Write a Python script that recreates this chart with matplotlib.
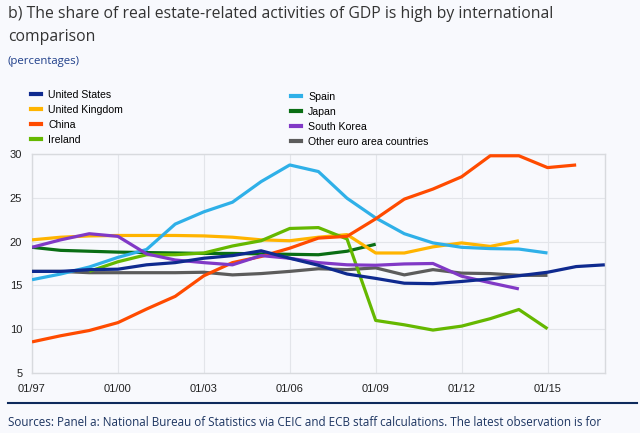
import numpy as np
import matplotlib.pyplot as plt
from matplotlib.lines import Line2D

us_years = np.arange(1997, 2018)
us_vals = [16.6, 16.6, 16.8, 16.85, 17.35, 17.6, 18.1, 18.4, 18.95, 18.1, 17.3,
           16.3, 15.8, 15.25, 15.2, 15.45, 15.75, 16.1, 16.5, 17.15, 17.35]

uk_years = np.arange(1997, 2015)
uk_vals = [20.2, 20.5, 20.65, 20.7, 20.7, 20.7, 20.65, 20.5, 20.2, 20.1, 20.5,
           20.8, 18.7, 18.7, 19.4, 19.85, 19.45, 20.1]

cn_years = np.arange(1997, 2017)
cn_vals = [8.55, 9.25, 9.85, 10.75, 12.3, 13.75, 16.1, 17.6, 18.3, 19.25, 20.4,
           20.6, 22.6, 24.85, 26.0, 27.4, 29.8, 29.8, 28.45, 28.75]

ie_years = np.arange(1999, 2016)
ie_vals = [16.6, 17.7, 18.5, 18.5, 18.7, 19.5, 20.1, 21.5, 21.6, 20.3,
           11.0, 10.5, 9.9, 10.35, 11.2, 12.25, 10.05]

es_years = np.arange(1997, 2016)
es_vals = [15.65, 16.3, 17.1, 18.2, 19.1, 22.0, 23.4, 24.5, 26.85, 28.75, 28.0,
           24.95, 22.7, 20.9, 19.85, 19.35, 19.2, 19.15, 18.7]

jp_years = np.arange(1997, 2010)
jp_vals = [19.35, 19.0, 18.9, 18.8, 18.75, 18.7, 18.65, 18.65, 18.6, 18.55, 18.5,
           18.9, 19.7]

kr_years = np.arange(1997, 2015)
kr_vals = [19.35, 20.2, 20.9, 20.6, 18.6, 17.9, 17.6, 17.35, 18.4, 18.1, 17.6,
           17.35, 17.3, 17.45, 17.5, 16.05, 15.3, 14.6]

ot_years = np.arange(1997, 2016)
ot_vals = [16.6, 16.6, 16.45, 16.45, 16.45, 16.45, 16.5, 16.2, 16.35, 16.6, 16.9,
           16.8, 17.0, 16.2, 16.8, 16.4, 16.35, 16.15, 16.15]

left_names = ['United States', 'United Kingdom', 'China', 'Ireland']
right_names = ['Spain', 'Japan', 'South Korea', 'Other euro area countries']

bg = '#f8f9fd'
fig = plt.figure(figsize=(6.4, 4.33), dpi=100, facecolor=bg)
ax = fig.add_axes([0.05, 0.1386, 0.895, 0.5057], facecolor=bg)

series = [
    (us_years, us_vals, '#0f2a8f', left_names[0]),
    (uk_years, uk_vals, '#ffb400', left_names[1]),
    (cn_years, cn_vals, '#ff4b00', left_names[2]),
    (ie_years, ie_vals, '#65b800', left_names[3]),
    (es_years, es_vals, '#2fb0e8', right_names[0]),
    (jp_years, jp_vals, '#0a6e14', right_names[1]),
    (kr_years, kr_vals, '#8139c6', right_names[2]),
    (ot_years, ot_vals, '#5c5c5c', right_names[3]),
]
# draw order roughly as in the original
order = [7, 5, 1, 3, 4, 2, 6, 0]
for k in order:
    x, y, c, name = series[k]
    ax.plot(x, y, color=c, lw=2.3, solid_joinstyle='round', solid_capstyle='butt', zorder=3)

ax.set_xlim(1997, 2017)
ax.set_ylim(5, 30)
ax.set_yticks([5, 10, 15, 20, 25, 30])
ax.set_xticks([1997, 2000, 2003, 2006, 2009, 2012, 2015])
ax.set_xticklabels(['01/97', '01/00', '01/03', '01/06', '01/09', '01/12', '01/15'])
ax.tick_params(length=0, labelsize=8, labelcolor='#222222')
ax.tick_params(axis='x', pad=8)
ax.tick_params(axis='y', pad=7)
for lab in ax.get_xticklabels() + ax.get_yticklabels():
    lab.set_family('Liberation Sans')
ax.grid(True, color='#e3e5ea', lw=0.8, zorder=0)
for s in ax.spines.values():
    s.set_color('#d8dade')
    s.set_linewidth(1.0)

def handles(idx):
    return [Line2D([], [], color=series[i][2], lw=3) for i in idx]

leg_kw = dict(frameon=False, handlelength=1.0, handletextpad=0.65, labelspacing=0.48,
              borderpad=0, borderaxespad=0, prop={'family': 'Liberation Sans', 'size': 7.6})
fig.legend(handles([0, 1, 2, 3]), left_names, loc='upper left',
           bbox_to_anchor=(0.048, 0.793), **leg_kw)
fig.legend(handles([4, 5, 6, 7]), right_names, loc='upper left',
           bbox_to_anchor=(0.454, 0.788), **leg_kw)

fig.text(0.0125, 0.967, 'b) The share of real estate-related activities of GDP is high by international',
         fontsize=11.3, family='Open Sans', color='#333333', va='center')
fig.text(0.0125, 0.914, 'comparison', fontsize=11.3, family='Open Sans', color='#333333', va='center')
fig.text(0.0125, 0.857, '(percentages)', fontsize=8.2, family='Open Sans', color='#1f3f8a', va='center')

fig.add_artist(Line2D([0.0125, 0.995], [0.069, 0.069], color='#0e2a5c', lw=1.5))
fig.text(0.0125, 0.025, 'Sources: Panel a: National Bureau of Statistics via CEIC and ECB staff calculations. The latest observation is for',
         fontsize=8.4, family='Open Sans', color='#1d3561', va='center')

fig.savefig('out.png', dpi=100, facecolor=bg)
